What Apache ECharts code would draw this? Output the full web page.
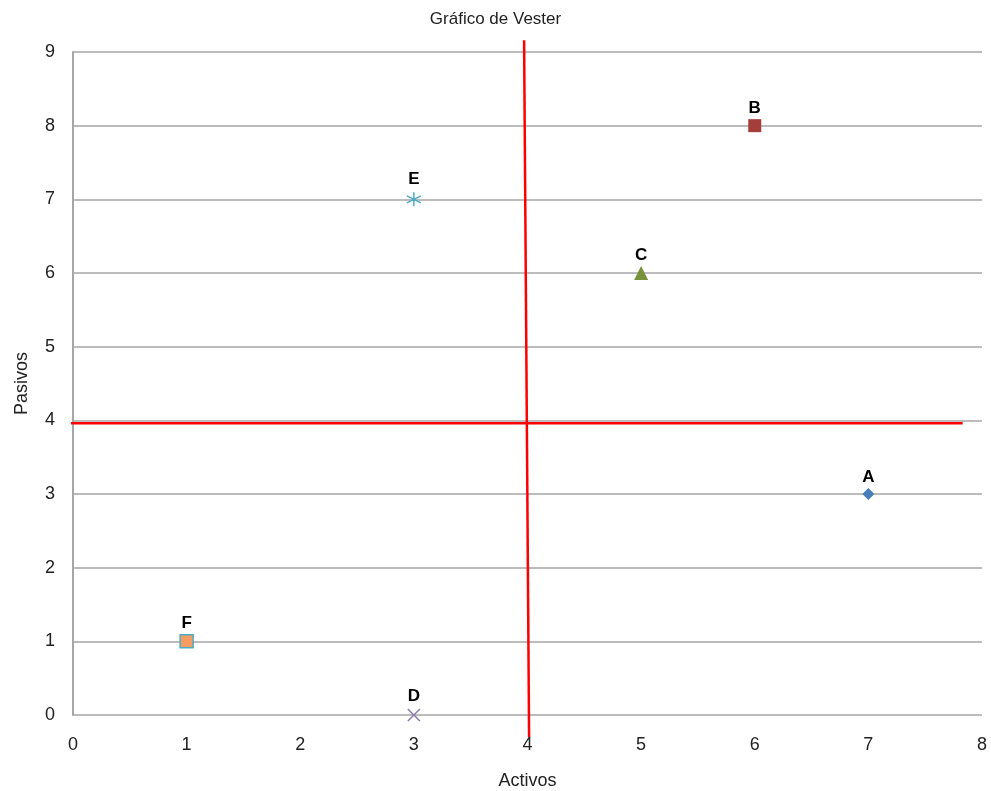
<!DOCTYPE html>
<html><head><meta charset="utf-8">
<script src="https://cdn.jsdelivr.net/npm/echarts@6/dist/echarts.min.js"></script>
<style>html,body{margin:0;padding:0;background:#fff}#c{width:991px;height:791px}</style>
</head><body><div id="c"></div>
<script>
const names = ['A','B','C','D','E','F'];
const activos = [7, 6, 5, 3, 3, 1];
const pasivos = [3, 8, 6, 0, 7, 1];
const xTicks = [0,1,2,3,4,5,6,7,8];
const yTicks = [0,1,2,3,4,5,6,7,8,9];
// hand-drawn red quadrant lines (value coordinates)
const vLine = [[3.97, 9.16], [4.014, -0.30]];
const hLine = [[-0.10, 3.96], [7.83, 3.96]];

const styles = {
  A: {symbol:'diamond', size:12, color:'#4a7ebb'},
  B: {symbol:'rect', size:13, color:'#a33e3a'},
  C: {symbol:'triangle', size:14, color:'#77933c'},
  D: {symbol:'path://M0,0L10,10M10,0L0,10', size:12, color:'none', border:'#8a7cae'},
  E: {symbol:'path://M5,0L5,10M0.7,2.5L9.3,7.5M0.7,7.5L9.3,2.5', size:14, color:'none', border:'#4bacc6'},
  F: {symbol:'rect', size:13, color:'#f59d63', border:'#4bacc6'}
};

const series = names.map((n,i)=>{
  const s = styles[n];
  return {
    type:'scatter', name:n,
    data:[[activos[i], pasivos[i]]],
    symbol:s.symbol, symbolSize:s.size,
    itemStyle:{color:s.color, borderColor:s.border||s.color, borderWidth:s.border?1.5:0, opacity:1},
    label:{show:true, position:'top', distance:2, formatter:n, color:'#000', fontWeight:'bold', fontSize:17, fontFamily:'Liberation Sans, Arial'},
    z:5
  };
});
series.push({type:'line', data:vLine, symbol:'none', clip:false, lineStyle:{color:'#ff0000', width:2.5}, z:4, silent:true});
series.push({type:'line', data:hLine, symbol:'none', clip:false, lineStyle:{color:'#ff0000', width:2.5}, z:4, silent:true});

const font = 'Liberation Sans, Arial';
const chart = echarts.init(document.getElementById('c'));
chart.setOption({
  animation:false,
  title:{text:'Gráfico de Vester', left:'center', top:6, textStyle:{fontSize:17, fontWeight:'normal', color:'#222', fontFamily:font}},
  grid:{left:73, right:9, top:52, bottom:76, containLabel:false, outerBoundsMode:'none'},
  xAxis:{type:'value', min:xTicks[0], max:xTicks[xTicks.length-1], interval:1,
    name:'Activos', nameLocation:'middle', nameGap:57, nameTextStyle:{fontSize:18, color:'#222', fontFamily:font},
    axisLine:{show:false}, axisTick:{show:false}, splitLine:{show:false},
    axisLabel:{fontSize:18, color:'#222', margin:21, fontFamily:font}},
  yAxis:{type:'value', min:yTicks[0], max:yTicks[yTicks.length-1], interval:1,
    name:'Pasivos', nameLocation:'middle', nameGap:42, nameRotate:90, nameTextStyle:{fontSize:18, color:'#222', fontFamily:font},
    axisLine:{show:true, lineStyle:{color:'#a6a6a6', width:2}}, axisTick:{show:false},
    splitLine:{show:true, lineStyle:{color:'#a6a6a6', width:1.5}},
    axisLabel:{fontSize:18, color:'#222', margin:18, fontFamily:font}},
  series:series
});
</script></body></html>
